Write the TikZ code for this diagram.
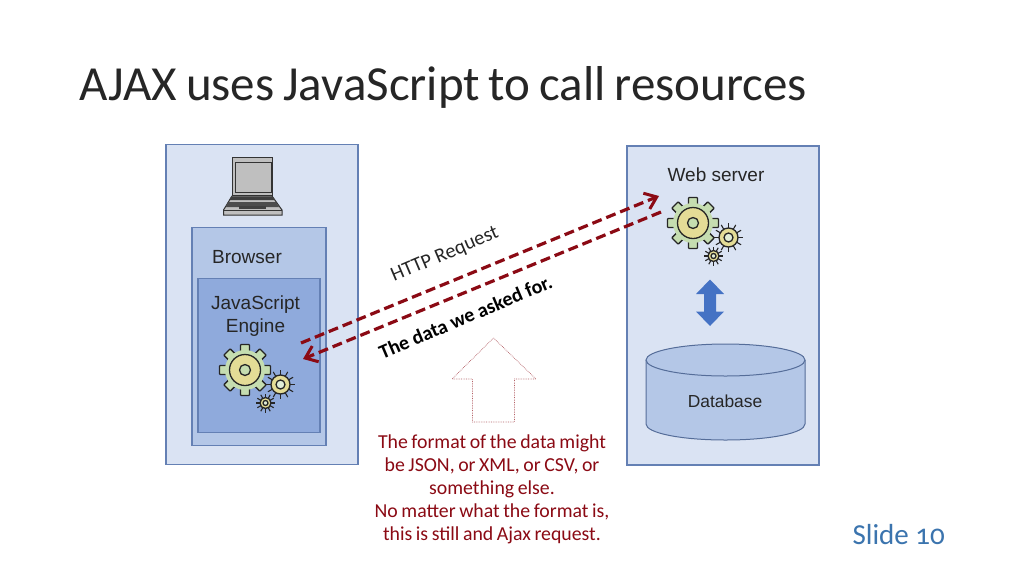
\documentclass[tikz,border=0pt]{standalone}
\usepackage{fontspec}
\setmainfont{Carlito}
\newfontfamily\arialf{Liberation Sans}
\newfontfamily\titlef[WordSpace=0.55]{Carlito}
\newfontfamily\notef[WordSpace=0.8]{Carlito}
\usetikzlibrary{arrows.meta}
\definecolor{panel}{HTML}{DAE3F3}
\definecolor{mid}{HTML}{B4C7E7}
\definecolor{deep}{HTML}{8FAADC}
\definecolor{edge}{HTML}{6480B4}
\definecolor{wine}{HTML}{8B0A14}
\definecolor{geargreen}{HTML}{C5DDB0}
\definecolor{gearyellow}{HTML}{E4DC96}
\definecolor{slideblue}{HTML}{3B74AE}
\definecolor{pushblue}{HTML}{4472C4}
\tikzset{
  x=1pt,y=-1pt,
  box/.style={draw=edge,line width=1.3pt,rectangle,inner sep=0pt},
  sanslabel/.style={font=\arialf\fontsize{19}{23}\selectfont,text=black!85,align=center,inner sep=0pt},
  flow/.style={draw=wine,line width=3.2pt,dash pattern=on 10pt off 5pt,-{Straight Barb[length=11pt,width=17pt,line width=3pt]}},
  gearline/.style={draw=black!85,line width=1.3pt},
}
\newcommand{\biggearat}[2]{%
  \begin{scope}[shift={(#1,#2)}]
    \foreach \a in {0,45,...,315}{
      \draw[gearline,fill=geargreen,rotate=\a,rounded corners=0.8pt] (-4.5,-18) -- (-4.5,-25.5) -- (4.5,-25.5) -- (4.5,-18);
    }
    \fill[geargreen] (0,0) circle (20);
    \draw[gearline,fill=gearyellow] (0,0) circle (15.5);
    \draw[gearline,fill=geargreen] (0,0) circle (5.5);
  \end{scope}}
\newcommand{\spikegearat}[5]{%
  \begin{scope}[shift={(#1,#2)}]
    \foreach \a in {0,30,...,330}{
      \draw[draw=black!85,line width=1.1pt,rotate=\a] (0,-#3+1) -- (0,-#4);
    }
    \draw[gearline,fill=gearyellow] (0,0) circle (#3);
    \draw[gearline,fill=geargreen!50!white] (0,0) circle (#5);
  \end{scope}}
\newcommand{\geargroup}[2]{%
  \biggearat{#1}{#2}
  \spikegearat{#1+35.5}{#2+14.5}{9.5}{14.5}{4.5}
  \spikegearat{#1+20.5}{#2+33}{5.5}{9.5}{2.5}}
\begin{document}
\begin{tikzpicture}
\useasboundingbox (0,0) rectangle (1024,576);
\fill[white] (0,0) rectangle (1024,576);

\node[anchor=west,inner sep=0pt,font=\titlef\fontsize{49}{54}\selectfont,text=black!85] (title) at (79.5,87) {AJAX uses JavaScript to call resources};

% panels
\node[box,fill=panel,minimum width=192pt,minimum height=320pt] (client) at (262,304.5) {};
\node[box,fill=mid,minimum width=134pt,minimum height=218pt] (browser) at (259,336.5) {};
\node[box,fill=deep,minimum width=122pt,minimum height=154pt] (engine) at (259,355.5) {};
\node[box,fill=panel,minimum width=192pt,minimum height=319pt] (server) at (723,305.5) {};

\node[sanslabel] (browserlabel) at (247,257) {Browser};
\node[sanslabel] (enginelabel) at (255.5,316) {JavaScript\\Engine};
\node[sanslabel] (weblabel) at (716,175) {Web server};

% laptop
\filldraw[draw=black!80,fill=black!25,line width=1pt] (232,157) rectangle (272,195);
\filldraw[draw=black!80,fill=black!25,line width=1pt] (235,162) rectangle (271,192);
\filldraw[draw=black!80,fill=black!25,line width=1pt] (232,196) -- (272,196) -- (282,210) -- (282,215) -- (223.5,215) -- (223.5,210) -- cycle;
\fill[black!75] (231,197) -- (273,197) -- (275,200) -- (229,200) -- cycle;
\fill[black!70] (228,202) -- (276,202) -- (279,207) -- (226,207) -- cycle;
\fill[black!75] (239,206) rectangle (266,209);
\draw[black!80,line width=0.8pt] (223.5,210) -- (282,210);

% gears
\geargroup{245}{370}
\geargroup{693}{223}

% database
\filldraw[draw=edge!85!black,fill=mid,line width=1pt] (646,360) -- (646,424) .. controls (646,433) and (681,440) .. (725.5,440) .. controls (770,440) and (805,433) .. (805,424) -- (805,360);
\filldraw[draw=edge!85!black,fill=mid,line width=1pt] (725.5,360) ellipse[x radius=79.5,y radius=16];
\node[sanslabel,font=\arialf\fontsize{17.4}{21}\selectfont] (dblabel) at (725,401) {Database};

% double arrow
\fill[pushblue] (710,279.5) -- (724,294) -- (716,294) -- (716,311.5) -- (724,311.5) -- (710,326) -- (696,311.5) -- (704,311.5) -- (704,294) -- (696,294) -- cycle;

% flows
\coordinate (reqfrom) at (301,343);
\coordinate (reqto) at (659,196);
\coordinate (resfrom) at (661,212);
\coordinate (resto) at (303,359);
\draw[flow] (reqfrom) -- (reqto);
\draw[flow] (resfrom) -- (resto);

\node[rotate=23,inner sep=0pt,font=\fontsize{20.3}{24}\selectfont,text=black!85] (reqlabel) at (445,255) {HTTP Request};
\node[rotate=23,inner sep=0pt,font=\bfseries\fontsize{20}{23}\selectfont,text=black] (reslabel) at (465.5,317) {The data we asked for.};

% up arrow
\draw[densely dotted,draw=wine!65,line width=0.7pt] (493.5,338) -- (536,379) -- (514.5,379) -- (514.5,422) -- (472.5,422) -- (472.5,379) -- (452,379) -- cycle;

\node[inner sep=0pt,align=center,text=wine,font=\notef\fontsize{19.8}{23}\selectfont] (note) at (492,489) {The format of the data might\\be JSON, or XML, or CSV, or\\something else.\\No matter what the format is,\\this is still and Ajax request.};

\node[anchor=east,inner sep=0pt,text=slideblue,font=\fontsize{29}{33}\selectfont] (slide) at (945,535) {Slide {\addfontfeature{Numbers=OldStyle}10}};
\end{tikzpicture}
\end{document}
